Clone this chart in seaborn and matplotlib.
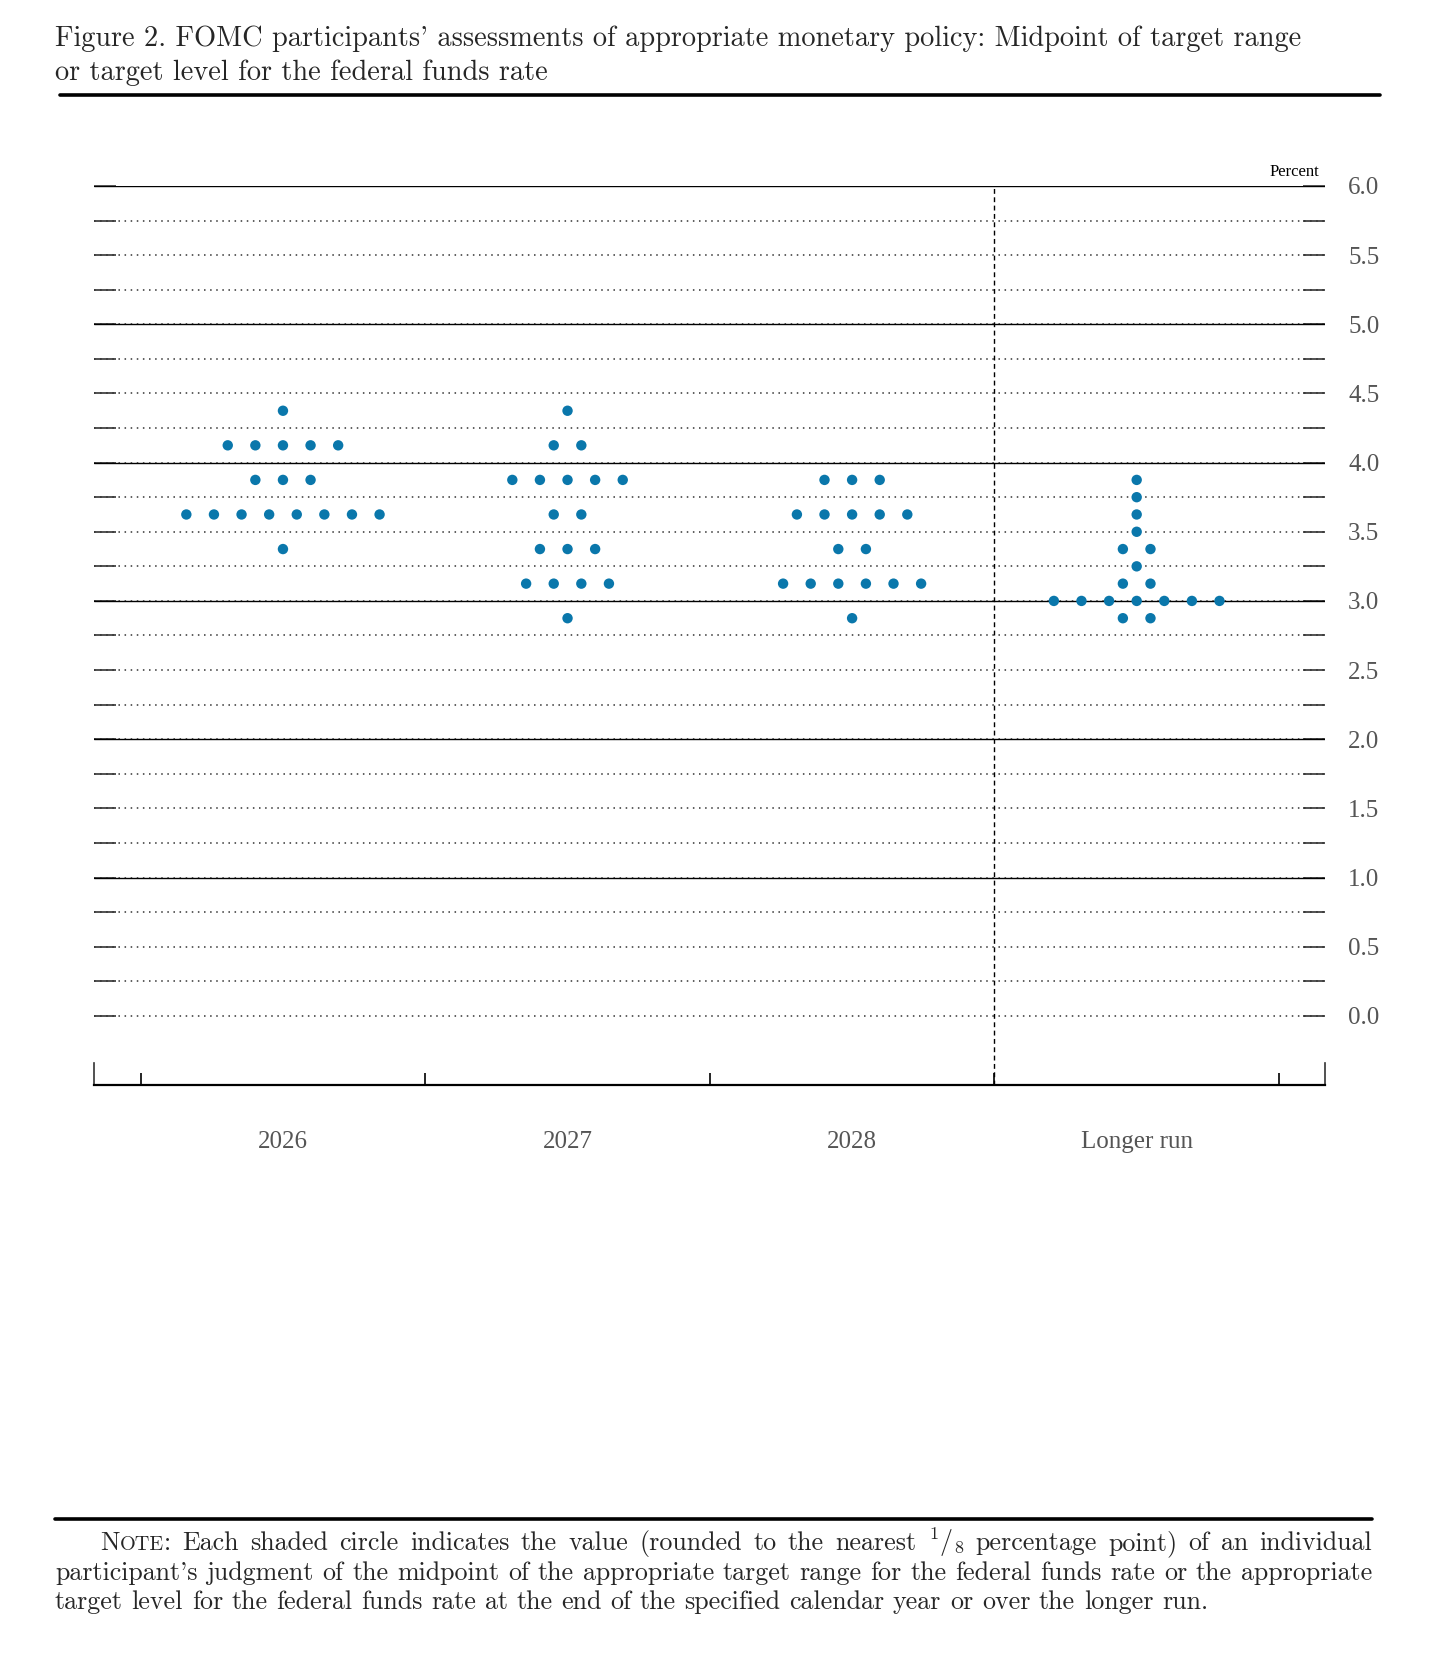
import numpy as np
import pandas as pd
import matplotlib
matplotlib.use("Agg")
import matplotlib.pyplot as plt
import seaborn as sns

# ====== Data ======
periods = ["2026", "2027", "2028", "Longer run"]

levels_2026 = [4.375, 4.125, 3.875, 3.625, 3.375]
counts_2026 = [1, 5, 3, 8, 1]

levels_2027 = [4.375, 4.125, 3.875, 3.625, 3.375, 3.125, 2.875]
counts_2027 = [1, 2, 5, 2, 3, 4, 1]

levels_2028 = [3.875, 3.625, 3.375, 3.125, 2.875]
counts_2028 = [3, 5, 2, 6, 1]

levels_lr = [3.875, 3.75, 3.625, 3.5, 3.375, 3.25, 3.125, 3.0, 2.875]
counts_lr = [1, 1, 1, 1, 2, 1, 2, 7, 2]

y_ticks = [0.0, 0.5, 1.0, 1.5, 2.0, 2.5, 3.0, 3.5, 4.0, 4.5, 5.0, 5.5, 6.0]

title_lines = [
    "Figure 2. FOMC participants' assessments of appropriate monetary policy: Midpoint of target range",
    "or target level for the federal funds rate",
]
note_lines = [
    "NOTE: Each shaded circle indicates the value (rounded to the nearest ${}^{1}/{}_{8}$ percentage point) of an individual",
    "participant's judgment of the midpoint of the appropriate target range for the federal funds rate or the appropriate",
    "target level for the federal funds rate at the end of the specified calendar year or over the longer run.",
]

# ====== Build the dot table ======
dot_gap = 0.097
rows = []
groups = [(levels_2026, counts_2026), (levels_2027, counts_2027),
          (levels_2028, counts_2028), (levels_lr, counts_lr)]
for i, (lv, ct) in enumerate(groups):
    for level, n in zip(lv, ct):
        for k in range(n):
            rows.append({"period": periods[i], "rate": level,
                         "xpos": i + (k - (n - 1) / 2) * dot_gap})
df = pd.DataFrame(rows)

# ====== Style ======
sns.set_theme(style="white")
plt.rcParams["font.family"] = ["Liberation Serif", "DejaVu Serif"]
plt.rcParams["mathtext.fontset"] = "cm"
SERIF_CM = ["cmr10", "DejaVu Serif"]
DOT = "#0a77ab"
GRAY = "#555555"

W, H = 1440, 1660
fig = plt.figure(figsize=(14.4, 16.6), dpi=100)
ax = fig.add_axes([94 / W, 1 - 1085 / H, (1324.5 - 94) / W, (1085 - 186) / H])

# gridlines
for v in np.arange(0, 6.01, 0.25):
    ax.axhline(v, color="#333333", lw=1.1, dashes=(1, 3), zorder=1)
for v in [1, 2, 3, 4, 5, 6]:
    ax.axhline(v, color="black", lw=1.0, zorder=1)
ax.vlines(2.5, -0.5, 6.0, color="black", lw=1.0, linestyles=(0, (3.5, 2.5)), zorder=1)

sns.scatterplot(data=df, x="xpos", y="rate", color=DOT, s=56, edgecolor="none",
                linewidth=0, zorder=3, ax=ax, legend=False)

ax.set_xlim(-0.664, 3.66)
ax.set_ylim(-0.5, 6.0)
ax.set_xlabel("")
ax.set_ylabel("")

# y axis: ticks both sides, labels right
ax.set_yticks(y_ticks)
ax.set_yticklabels([f"{t:.1f}" for t in y_ticks])
ax.set_yticks(np.arange(0.25, 6.0, 0.5), minor=True)
ax.tick_params(axis="y", which="both", left=True, right=True, labelleft=False,
               labelright=True, direction="in", length=16, width=1.2, color="#333333",
               pad=17, labelsize=18, labelcolor=GRAY)

# x axis: boundary ticks, labels at centres
ax.set_xticks([-0.5, 0.5, 1.5, 2.5, 3.5])
ax.set_xticklabels([])
ax.set_xticks([0, 1, 2, 3], minor=True)
ax.set_xticklabels(periods, minor=True)
ax.tick_params(axis="x", which="major", bottom=True, direction="in", length=9,
               width=1.2, color="black")
ax.tick_params(axis="x", which="minor", bottom=True, length=0, pad=33,
               labelsize=18, labelcolor=GRAY)

ax.spines["top"].set_visible(False)
ax.spines["bottom"].set_color("black")
ax.spines["bottom"].set_linewidth(1.6)
for side in ["left", "right"]:
    ax.spines[side].set_bounds(-0.5, -0.34)
    ax.spines[side].set_color("#333333")
    ax.spines[side].set_linewidth(1.2)

ax.annotate("Percent", xy=(1.0, 6.0), xycoords=("axes fraction", "data"),
            xytext=(-4, 4), textcoords="offset points", ha="right", va="bottom",
            fontsize=12, color="black")

# ====== Title ======
title_fs = 20.4
fig.text(55 / W, 1 - 46 / H, title_lines[0], family=SERIF_CM, fontsize=title_fs,
         va="baseline", ha="left")
fig.text(55 / W, 1 - 80 / H, title_lines[1], family=SERIF_CM, fontsize=title_fs,
         va="baseline", ha="left")
fig.add_artist(plt.Line2D([60 / W, 1380 / W], [1 - 95 / H, 1 - 95 / H],
                          color="black", lw=2.6))

# ====== Note (justified) ======
fig.add_artist(plt.Line2D([55 / W, 1372 / W], [1 - 1519 / H, 1 - 1519 / H],
                          color="black", lw=2.6))

renderer = fig.canvas.get_renderer()
note_fs = 18.7


def segments(word):
    if word.startswith("NOTE"):
        return [("N", 1.0), ("OTE", 0.78), (":", 1.0)]
    return [(word, 1.0)]


def put_line(text, x_left, x_right, y_px, justify):
    words = text.split(" ")
    pieces, widths = [], []
    for w in words:
        parts, tw = [], 0
        for s, scale in segments(w):
            t = fig.text(0, 1 - y_px / H, s, family=SERIF_CM, fontsize=note_fs * scale,
                         va="baseline", ha="left")
            ww = t.get_window_extent(renderer).width
            parts.append((t, ww))
            tw += ww
        pieces.append(parts)
        widths.append(tw)
    if justify:
        gap = (x_right - x_left - sum(widths)) / (len(words) - 1)
    else:
        gap = 0.333 * note_fs * 100 / 72
    x = x_left
    for parts, tw in zip(pieces, widths):
        xx = x
        for t, ww in parts:
            t.set_x(xx / W)
            xx += ww
        x += tw + gap


note_base = [1550, 1579.5, 1609]
put_line(note_lines[0], 100, 1372, note_base[0], True)
put_line(note_lines[1], 55, 1372, note_base[1], True)
put_line(note_lines[2], 55, 1372, note_base[2], False)

fig.savefig("out.png", dpi=100)
